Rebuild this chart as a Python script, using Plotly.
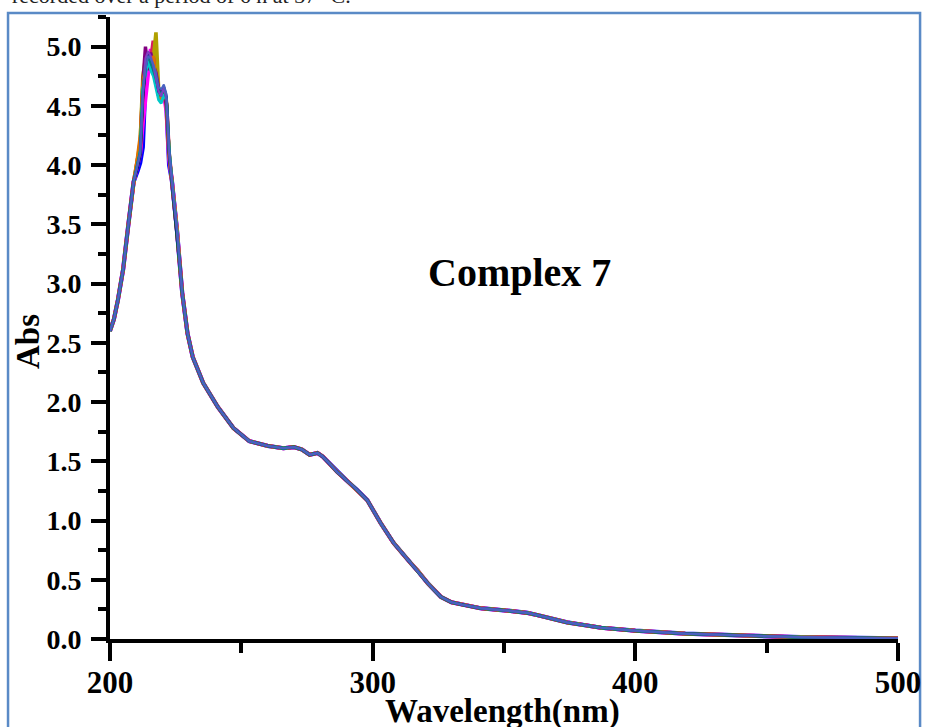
import plotly.graph_objects as go

# ---- data ----
head_wl = [200, 201.5, 203, 205, 207, 209]
head_abs = [2.60, 2.70, 2.86, 3.12, 3.50, 3.86]

peak_wl = [210.5, 211.5, 212.5, 213.5, 214.5, 215.5, 216.5, 217.5, 218.5, 219.5, 220.5, 221.5, 222.5]

tail_wl = [223.5, 224.5, 225.5, 226.5, 227.5, 229.5, 231.5, 235.5, 241, 247, 253, 260, 266, 270,
           273, 276, 279, 281, 286.5, 290, 294, 298, 303, 308, 314.5, 317, 321, 326, 330, 334,
           341, 351, 359, 363, 374, 387, 400, 419, 440, 463, 500]
tail_abs = [3.88, 3.68, 3.45, 3.18, 2.92, 2.58, 2.38, 2.16, 1.96, 1.78, 1.67, 1.63, 1.61, 1.62,
            1.60, 1.555, 1.57, 1.54, 1.41, 1.34, 1.26, 1.17, 0.98, 0.81, 0.64, 0.58, 0.47, 0.355, 0.31, 0.29,
            0.26, 0.24, 0.22, 0.20, 0.14, 0.095, 0.07, 0.045, 0.03, 0.015, 0.005]

# peak-region values of each scan
peak_scans = [
    [3.95, 4.02, 4.15, 4.70, 4.88, 4.95, 4.85, 4.72, 4.60, 4.55, 4.62, 4.50, 4.00],
    [4.00, 4.10, 4.35, 4.55, 4.80, 4.98, 4.80, 4.70, 4.60, 4.62, 4.60, 4.45, 4.05],
    [4.05, 4.12, 4.60, 4.85, 4.95, 4.88, 5.05, 4.80, 4.62, 4.58, 4.60, 4.52, 4.10],
    [4.05, 4.20, 4.75, 4.90, 4.85, 4.92, 4.90, 5.12, 4.65, 4.55, 4.60, 4.50, 4.08],
    [4.00, 4.15, 4.70, 5.00, 4.80, 4.95, 4.85, 4.78, 4.65, 4.60, 4.62, 4.50, 4.10],
    [4.08, 4.25, 4.70, 4.82, 4.88, 4.85, 4.92, 4.70, 4.58, 4.55, 4.62, 4.55, 4.12],
    [4.00, 4.10, 4.62, 4.80, 4.90, 4.85, 4.82, 4.70, 4.62, 4.58, 4.65, 4.55, 4.12],
    [4.00, 4.12, 4.65, 4.78, 4.88, 4.80, 4.75, 4.65, 4.55, 4.52, 4.60, 4.55, 4.15],
    [3.98, 4.08, 4.55, 4.82, 4.95, 4.88, 4.82, 4.75, 4.62, 4.60, 4.66, 4.58, 4.10],
    [4.02, 4.12, 4.62, 4.88, 4.92, 4.86, 4.80, 4.72, 4.63, 4.60, 4.64, 4.56, 4.12],
    [4.00, 4.10, 4.58, 4.90, 4.96, 4.92, 4.84, 4.74, 4.62, 4.58, 4.66, 4.55, 4.10],
    [4.00, 4.10, 4.60, 4.80, 4.92, 4.90, 4.85, 4.78, 4.66, 4.64, 4.68, 4.60, 4.15],
]
scan_colors = ["#0000FF", "#FF00FF", "#D81B60", "#B0A000", "#800080", "#E07000",
               "#00A000", "#00C8C8", "#000080", "#008080", "#8040C0", "#4862C0"]
scan_widths = [4.2, 4.0, 3.8, 3.6, 3.4, 3.2, 3.0, 2.8, 2.6, 2.4, 2.2, 2.0]

x_ticks = [200, 300, 400, 500]
y_ticks = [0.0, 0.5, 1.0, 1.5, 2.0, 2.5, 3.0, 3.5, 4.0, 4.5, 5.0]

SERIF = "Liberation Serif, Times New Roman, serif"

fig = go.Figure()
wl = head_wl + peak_wl + tail_wl
for vals, col, w in zip(peak_scans, scan_colors, scan_widths):
    fig.add_trace(go.Scatter(x=wl, y=head_abs + vals + tail_abs, mode="lines",
                             line=dict(color=col, width=w), showlegend=False,
                             hoverinfo="skip"))

fig.update_layout(
    width=926, height=727,
    margin=dict(l=110, r=28, t=17, b=88, autoexpand=False),
    plot_bgcolor="white", paper_bgcolor="white",
    showlegend=False,
)
fig.update_xaxes(
    range=[200, 500], tickvals=x_ticks, ticktext=[str(v) for v in x_ticks],
    showgrid=False, zeroline=False, showline=True, linewidth=4, linecolor="black",
    ticks="outside", ticklen=18, tickwidth=4, tickcolor="black", automargin=False,
    minor=dict(dtick=50, tick0=200, ticks="outside", ticklen=10, tickwidth=4, tickcolor="black", showgrid=False),
    tickfont=dict(family=SERIF, size=31, color="black", weight="bold"),
    ticklabelstandoff=-5,
)
fig.update_yaxes(
    range=[0, 5.25], tickvals=y_ticks, ticktext=[f"{v:.1f}" for v in y_ticks],
    showgrid=False, zeroline=False, showline=True, linewidth=4, linecolor="black",
    ticks="outside", ticklen=15, tickwidth=4, tickcolor="black", automargin=False,
    minor=dict(dtick=0.25, tick0=0, ticks="outside", ticklen=8, tickwidth=4, tickcolor="black", showgrid=False),
    tickfont=dict(family=SERIF, size=28, color="black", weight="bold"),
    ticklabelstandoff=4,
)

fig.add_annotation(text="Complex 7", x=356, y=3.09, xref="x", yref="y", showarrow=False,
                   xanchor="center", yanchor="middle",
                   font=dict(family=SERIF, size=40, color="black", weight="bold"))
fig.add_annotation(text="Abs", x=-0.104, y=0.4775, xref="paper", yref="paper", showarrow=False,
                   xanchor="center", yanchor="middle",
                   textangle=-90, font=dict(family=SERIF, size=33, color="black", weight="bold"))
fig.add_annotation(text="Wavelength(nm)", x=0.4987, y=-0.117, xref="paper", yref="paper",
                   xanchor="center", yanchor="middle",
                   showarrow=False, font=dict(family=SERIF, size=33, color="black", weight="bold"))
fig.add_annotation(text="recorded over a period of 6 h at 37 °C.", x=-0.127, y=1.034,
                   xref="paper", yref="paper", xanchor="left", yanchor="middle", showarrow=False,
                   font=dict(family=SERIF, size=22, color="#222222"))

fig.add_shape(type="rect", xref="paper", yref="paper", x0=-0.1294, x1=1.028, y0=-0.3, y1=1.0064,
              line=dict(color="#5A8AC6", width=2.5), fillcolor="rgba(0,0,0,0)", layer="below")

fig.write_html("out.html")
